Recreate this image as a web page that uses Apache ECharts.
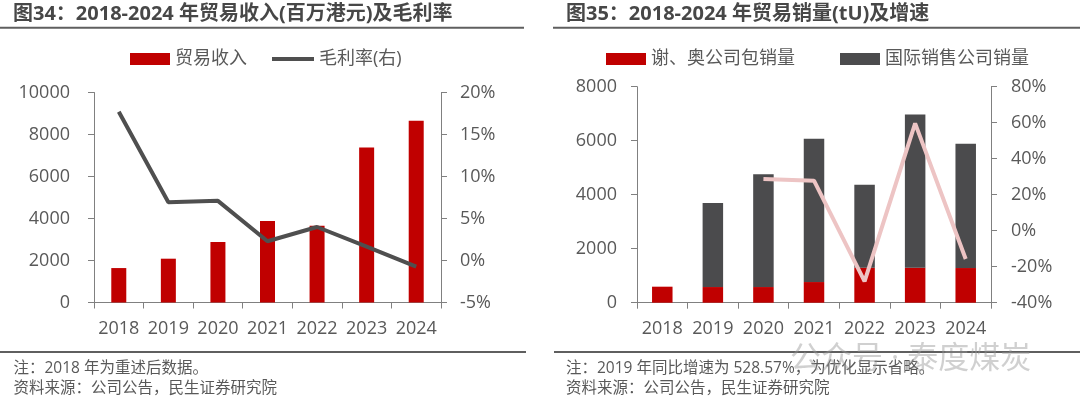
<!DOCTYPE html>
<html><head><meta charset="utf-8">
<script src="https://cdn.jsdelivr.net/npm/echarts@6/dist/echarts.min.js"></script>
<style>html,body{margin:0;padding:0;background:#fff}#c{width:1080px;height:403px}</style>
</head><body><div id="c"></div>
<script>
// ---- data ----
const years = ['2018', '2019', '2020', '2021', '2022', '2023', '2024'];
const tradeRevenue = [1640, 2086, 2882, 3885, 3660, 7380, 8650];       // 百万港元
const grossMargin = [17.7, 6.93, 7.1, 2.29, 3.99, 1.64, -0.74];        // %
const xieAoVolume = [593, 580, 580, 765, 1296, 1296, 1284];            // tU
const intlVolume = ['-', 3111, 4173, 5309, 3074, 5679, 4605];          // tU
const volumeGrowth = ['-', '-', 28.7, 27.8, -28.1, 59.6, -15.7];       // %
const revenueTicks = [0, 2000, 4000, 6000, 8000, 10000];
const marginTicks = [-5, 0, 5, 10, 15, 20];
const volumeTicks = [0, 2000, 4000, 6000, 8000];
const growthTicks = [-40, -20, 0, 20, 40, 60, 80];

const titleLeft = '图34：2018-2024 年贸易收入(百万港元)及毛利率';
const titleRight = '图35：2018-2024 年贸易销量(tU)及增速';
const noteLeft = '注：2018 年为重述后数据。';
const noteRight = '注：2019 年同比增速为 528.57%，为优化显示省略。';
const source = '资料来源：公司公告，民生证券研究院';

// ---- style ----
const FF = "'Open Sans','Noto Sans CJK SC',sans-serif";
const AX = '#808080';
const LBL = '#595959';

function rangeOf(t) { return { min: t[0], max: t[t.length - 1], interval: t[1] - t[0] }; }

function valAxis(gridIndex, ticks, suffix, margin, position) {
  const r = rangeOf(ticks);
  return {
    type: 'value', gridIndex, position, min: r.min, max: r.max, interval: r.interval,
    axisLine: { show: true, lineStyle: { color: AX, width: 1 } },
    axisTick: { show: true, length: 6, lineStyle: { color: AX } },
    splitLine: { show: false },
    axisLabel: { color: LBL, fontSize: 18, fontFamily: FF, margin, formatter: v => String(v) + suffix }
  };
}
function catAxis(gridIndex) {
  return {
    type: 'category', gridIndex, data: years,
    axisLine: { show: true, lineStyle: { color: AX, width: 1 } },
    axisTick: { show: true, length: 6, interval: 0, lineStyle: { color: AX } },
    axisLabel: { color: LBL, fontSize: 18, fontFamily: FF, margin: 17, interval: 0 }
  };
}
const legTxt = { color: LBL, fontSize: 18, fontFamily: FF };
function leg(left, data, w, h) {
  return { left, top: 50, padding: 0, itemWidth: w || 40, itemHeight: h || 12, itemGap: 0,
    textStyle: legTxt, data, selectedMode: false };
}

const chart = echarts.init(document.getElementById('c'), null, { renderer: 'canvas' });
chart.setOption({
  animation: false,
  backgroundColor: '#fff',
  grid: [
    { left: 94, top: 92.5, width: 347, height: 210 },
    { left: 637, top: 86.7, width: 354, height: 216 }
  ],
  xAxis: [catAxis(0), catAxis(1)],
  yAxis: [
    valAxis(0, revenueTicks, '', 24, 'left'),
    valAxis(0, marginTicks, '%', 19, 'right'),
    valAxis(1, volumeTicks, '', 20, 'left'),
    valAxis(1, growthTicks, '%', 20, 'right')
  ],
  legend: [
    leg(130, [{ name: '贸易收入', icon: 'rect' }]),
    leg(272, [{ name: '毛利率(右)', icon: 'rect' }], 42, 4),
    leg(606, [{ name: '谢、奥公司包销量', icon: 'rect' }]),
    leg(840, [{ name: '国际销售公司销量', icon: 'rect' }])
  ],
  series: [
    { name: '贸易收入', type: 'bar', xAxisIndex: 0, yAxisIndex: 0, data: tradeRevenue,
      barWidth: 15, itemStyle: { color: '#C00000' } },
    { name: '毛利率(右)', type: 'line', xAxisIndex: 0, yAxisIndex: 1, data: grossMargin,
      symbol: 'none', z: 5, lineStyle: { color: '#4F4F4F', width: 4 }, itemStyle: { color: '#4F4F4F' } },
    { name: '谢、奥公司包销量', type: 'bar', stack: 'vol', xAxisIndex: 1, yAxisIndex: 2, data: xieAoVolume,
      barWidth: 20.5, itemStyle: { color: '#C00000' } },
    { name: '国际销售公司销量', type: 'bar', stack: 'vol', xAxisIndex: 1, yAxisIndex: 2, data: intlVolume,
      barWidth: 20.5, itemStyle: { color: '#4B4B4D' } },
    { name: '增速', type: 'line', xAxisIndex: 1, yAxisIndex: 3, data: volumeGrowth,
      symbol: 'none', z: 5, lineStyle: { color: '#EDC4C4', width: 4 }, itemStyle: { color: '#EDC4C4' } }
  ],
  graphic: [
    { type: 'text', x: 13, y: 14.5, style: { text: titleLeft, fontSize: 20, fontWeight: 'bold', fontFamily: FF, fill: '#474747', verticalAlign: 'middle' } },
    { type: 'text', x: 566, y: 14.5, style: { text: titleRight, fontSize: 20, fontWeight: 'bold', fontFamily: FF, fill: '#474747', verticalAlign: 'middle' } },
    { type: 'line', shape: { x1: 0, y1: 27.7, x2: 524, y2: 27.7 }, style: { stroke: '#5F5F5F', lineWidth: 2 } },
    { type: 'line', shape: { x1: 553, y1: 27.7, x2: 1080, y2: 27.7 }, style: { stroke: '#5F5F5F', lineWidth: 2 } },
    { type: 'line', shape: { x1: 0, y1: 352, x2: 526, y2: 352 }, style: { stroke: '#5F5F5F', lineWidth: 2 } },
    { type: 'line', shape: { x1: 554, y1: 352, x2: 1080, y2: 352 }, style: { stroke: '#5F5F5F', lineWidth: 2 } },
    { type: 'text', x: 13.5, y: 369, style: { text: noteLeft, fontSize: 15.5, fontFamily: FF, fill: LBL, verticalAlign: 'middle' } },
    { type: 'text', x: 13.5, y: 389, style: { text: source, fontSize: 15.5, fontFamily: FF, fill: LBL, verticalAlign: 'middle' } },
    { type: 'text', x: 566, y: 369, style: { text: noteRight, fontSize: 15.5, fontFamily: FF, fill: LBL, verticalAlign: 'middle' } },
    { type: 'text', x: 566, y: 389, style: { text: source, fontSize: 15.5, fontFamily: FF, fill: LBL, verticalAlign: 'middle' } },
    { type: 'text', x: 790, y: 359, z: 100, style: { text: '公众号 · 泰度煤炭', fontSize: 31, fontFamily: FF, fill: 'rgba(150,150,150,0.45)', verticalAlign: 'middle' } }
  ]
});
</script></body></html>
